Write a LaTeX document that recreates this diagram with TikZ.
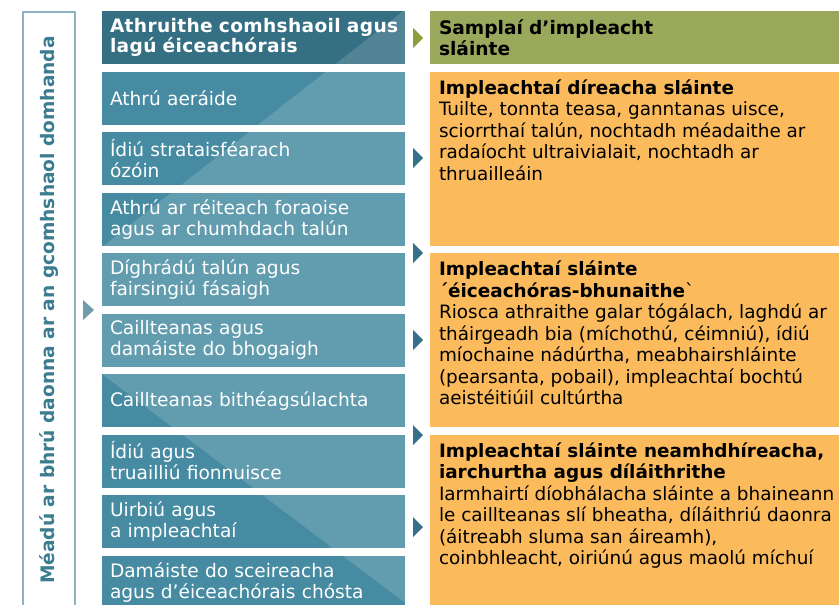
\documentclass[tikz,border=0pt]{standalone}
\usepackage{fontspec}
\setmainfont{DejaVu Sans}
\newfontfamily\headfont[LetterSpace=1.8]{DejaVu Sans}
\usetikzlibrary{positioning}

\definecolor{headteal}{HTML}{356F83}
\definecolor{rowteal}{HTML}{468BA2}
\definecolor{samplegreen}{HTML}{9AA85B}
\definecolor{impactorange}{HTML}{FBBB5D}
\definecolor{tipteal}{HTML}{35728A}
\definecolor{tipgreen}{HTML}{8A9F3A}
\definecolor{tipgrey}{HTML}{6E9CAD}
\definecolor{sideline}{HTML}{8FB2C1}
\definecolor{sidetext}{HTML}{3C7C90}

\begin{document}
\begin{tikzpicture}[x=1pt, y=-1pt, every node/.style={font=\fontsize{18.6}{21}\selectfont, outer sep=0pt},
  shine/.style={path picture={\fill[white, opacity=.15] (wedgeA) -- (wedgeB) -- (wedgeC) -- (wedgeD) -- cycle;}},
  pressure/.style={fill=rowteal, text=white, align=left, text width=287pt, inner xsep=8pt, minimum height=53pt, shine},
  phead/.style={pressure, fill=headteal, font=\fontsize{18.6}{20.5}\headfont\bfseries},
  samplehead/.style={fill=samplegreen, align=left, text width=400pt, inner xsep=9pt, minimum height=53pt, font=\fontsize{18.6}{21}\selectfont\bfseries},
  impact/.style={fill=impactorange, inner xsep=9pt, inner ysep=8pt, anchor=north west, font=\fontsize{18.4}{21.5}\selectfont},
  sidebar/.style={draw=sideline, line width=1.3pt, rotate=90, minimum width=596pt, minimum height=52pt, text=sidetext, font=\fontsize{18.6}{21}\selectfont\bfseries},
  tip/.style={fill=tipteal}]
\useasboundingbox (0,0) rectangle (839,605);
\clip (0,0) rectangle (839,605);
\coordinate (wedgeA) at (411,5);
\coordinate (wedgeB) at (98,250);
\coordinate (wedgeC) at (98,371);
\coordinate (wedgeD) at (412,608);

\node[sidebar] (pressurebar) at (49,310) {Méadú ar bhrú daonna ar an gcomhshaol domhanda};

\node[phead, anchor=north west] (head) at (102,11) {\mbox{Athruithe comhshaoil agus}\\\mbox{lagú éiceachórais}};
\node[pressure, below=7.5pt of head] (climate) {Athrú aeráide};
\node[pressure, below=7.5pt of climate] (ozone) {Ídiú strataisféarach\\ózóin};
\node[pressure, below=7.5pt of ozone] (forest) {Athrú ar réiteach foraoise\\agus ar chumhdach talún};
\node[pressure, below=7.5pt of forest] (desert) {Díghrádú talún agus\\fairsingiú fásaigh};
\node[pressure, below=7.5pt of desert] (wetland) {Caillteanas agus\\damáiste do bhogaigh};
\node[pressure, below=7.5pt of wetland] (biodiv) {Caillteanas bithéagsúlachta};
\node[pressure, below=7.5pt of biodiv] (water) {Ídiú agus\\truailliú fionnuisce};
\node[pressure, below=7.5pt of water] (urban) {Uirbiú agus\\a impleachtaí};
\node[pressure, below=7.5pt of urban] (coast) {Damáiste do sceireacha\\agus d’éiceachórais chósta};

\node[samplehead, right=25pt of head.north east, anchor=north west] (sample) {Samplaí d’impleacht\\sláinte};
\node[impact, right=25pt of climate.north east, anchor=north west] (direct)
  {\parbox[t][158pt][t]{405pt}{\raggedright\textbf{Impleachtaí díreacha sláinte}\\
   Tuilte, tonnta teasa, ganntanas uisce,\\sciorrthaí talún, nochtadh méadaithe ar\\radaíocht ultraivialait, nochtadh ar\\thruailleáin}};
\node[impact, right=25pt of desert.north east, anchor=north west] (ecosys)
  {\parbox[t][158pt][t]{405pt}{\raggedright\textbf{Impleachtaí sláinte}\\\textbf{´éiceachóras-bhunaithe}ˋ\\
   Riosca athraithe galar tógálach, laghdú ar\\tháirgeadh bia (míchothú, céimniú), ídiú\\míochaine nádúrtha, meabhairshláinte\\(pearsanta, pobail), impleachtaí bochtú\\aeistéitiúil cultúrtha}};
\node[impact, right=25pt of water.north east, anchor=north west] (indirect)
  {\parbox[t][170pt][t]{405pt}{\raggedright\textbf{Impleachtaí sláinte neamhdhíreacha,}\\\textbf{iarchurtha agus díláithrithe}\\
   Iarmhairtí díobhálacha sláinte a bhaineann\\le caillteanas slí bheatha, díláithriú daonra\\(áitreabh sluma san áireamh),\\coinbhleacht, oiriúnú agus maolú míchuí}};

% pointers between the columns
\fill[fill=tipgrey] (83,300) -- (94,310) -- (83,320) -- cycle;
\fill[fill=tipgreen] (413,28) -- (423,38) -- (413,48) -- cycle;
\foreach \y in {158,253,340,435,527}{\fill[tip] (413,\y-10) -- (423,\y) -- (413,\y+10) -- cycle;}
\end{tikzpicture}
\end{document}
